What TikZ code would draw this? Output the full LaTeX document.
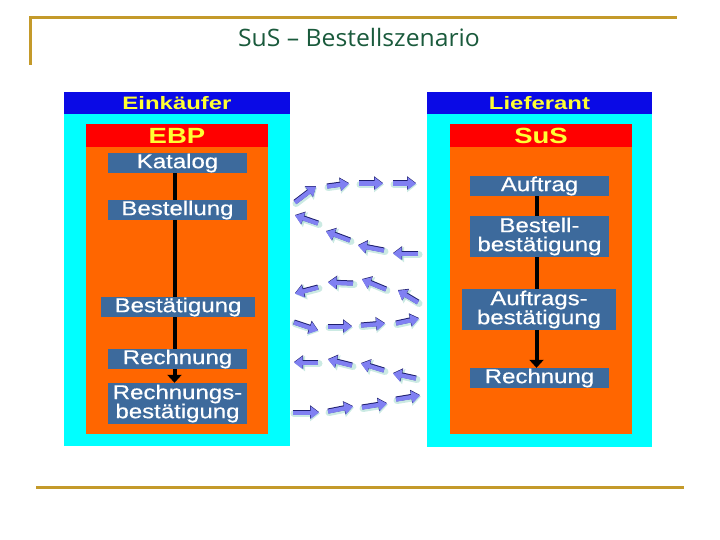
\documentclass[tikz,border=0pt]{standalone}
\usepackage{fontspec}
\setmainfont{Liberation Sans}
\newfontfamily\boxfont[FakeStretch=1.2,FakeBold=0.5]{Liberation Sans}
\newfontfamily\sysfont[FakeStretch=1.25]{Liberation Sans}
\newfontfamily\hdrfont[FakeStretch=1.33]{Liberation Sans}
\newfontfamily\titlefont{Open Sans}
\usetikzlibrary{arrows.meta}
\definecolor{gold}{HTML}{C49A2A}
\definecolor{titlegreen}{HTML}{1A5A3C}
\definecolor{cyanbg}{HTML}{00FFFF}
\definecolor{hdrblue}{HTML}{0A0AE6}
\definecolor{ebpred}{HTML}{FF0000}
\definecolor{orangebg}{HTML}{FF6600}
\definecolor{stepblue}{HTML}{3D6A9C}
\definecolor{txtyellow}{HTML}{FFFF33}
\definecolor{lav}{HTML}{8080F2}
\definecolor{navyc}{HTML}{1E1E6E}
\definecolor{glow}{HTML}{A8DCD0}
\tikzset{
  stepbox/.style={fill=stepblue, text=white, font=\boxfont\fontsize{20}{19}\selectfont,
    inner sep=0pt, align=center, minimum width=139pt, minimum height=20pt},
  widebox/.style={stepbox, minimum width=154pt},
  tallbox/.style={minimum height=41pt},
  hdrbox/.style={fill=hdrblue, text=txtyellow, font=\hdrfont\bfseries\fontsize{18}{17}\selectfont,
    inner sep=0pt, minimum width=226pt, minimum height=22pt},
  sysbox/.style={fill=ebpred, text=txtyellow, font=\sysfont\bfseries\fontsize{22}{21}\selectfont,
    inner sep=0pt, minimum width=182pt, minimum height=23pt},
  flowline/.style={line width=4pt, black, -{Triangle[length=8pt,width=14pt]}},
  fatshadow/.style={line width=7pt, glow, opacity=0.6, line cap=round, -{Triangle[length=10pt,width=15pt]}},
  fatedge/.style={line width=5pt, navyc, -{Triangle[length=9pt,width=13pt]}},
  fatbody/.style={line width=4.2pt, lav, -{Triangle[length=8.5pt,width=12pt]}}
}
\begin{document}
\begin{tikzpicture}[x=1pt,y=-1pt]
\useasboundingbox (0,0) rectangle (720,540);
% frame lines
\draw[gold, line width=3pt] (30,65) -- (30,18) -- (677,18);
\draw[gold, line width=3pt] (36,487) -- (684,487);
\node[text=titlegreen, font=\titlefont\fontsize{24}{24}\selectfont, xscale=1.03, transform shape] (title) at (359,38) {SuS – Bestellszenario};
% panels
\fill[cyanbg] (64,92) rectangle (290,446);
\fill[cyanbg] (427,92) rectangle (652,447);
\fill[orangebg] (86,124) rectangle (268,434);
\fill[orangebg] (450,124) rectangle (632,434);
\node[hdrbox] (lh) at (177,103) {Einkäufer};
\node[hdrbox, minimum width=225pt] (rh) at (539.5,103) {Lieferant};
\node[sysbox] (ebp) at (177,135.5) {EBP};
\node[sysbox] (sus) at (541,135.5) {SuS};
% steps at the ends of the flow lines
\node[stepbox] (kat) at (177.5,163) {Katalog};
\node[stepbox, tallbox] (rb) at (177.5,403.5) {Rechnungs-\\bestätigung};
\node[stepbox] (auf) at (539.5,186) {Auftrag};
\node[stepbox] (rr) at (539.5,378) {Rechnung};
% vertical flow
\draw[flowline] ([xshift=-3pt]kat.south) -- ([xshift=-3pt]rb.north);
\draw[flowline] ([xshift=-3pt]auf.south) -- ([xshift=-3pt]rr.north);
% steps drawn over the line
\node[stepbox] (bes) at (177.5,210) {Bestellung};
\node[widebox] (bst) at (178,307) {Bestätigung};
\node[stepbox] (rl) at (177.5,359) {Rechnung};
\node[stepbox, tallbox] (bb) at (539.5,236.5) {Bestell-\\bestätigung};
\node[widebox, tallbox] (ab) at (539,309.5) {Auftrags-\\bestätigung};
% message arrows
\foreach \xa/\ya/\xb/\yb in {
  295/202/316/186, 327/186/349/183, 359/183/383/183, 393/183/416/183,
  318/223/295/215, 350/240/326/231, 384/250/358/245, 418/253/393/253,
  318/287/295/293, 353/283/328/282, 386/289/362/279, 418/302/398/290,
  294/322/318/330, 328/326/352/326, 361/325/385/323, 396/323/419/318,
  318/362/294/362, 352/365/328/359, 384/370/361/363, 416/378/393/373,
  293/412/319/412, 328/411/353/406, 362/407/387/403, 396/399/420/395}
{
  \coordinate (s) at (\xa,\ya);
  \coordinate (e) at (\xb,\yb);
  \draw[fatshadow] ([shift={(1pt,-1.5pt)}]s) -- ([shift={(1pt,-1.5pt)}]e);
  \draw[fatedge] (s) -- (e);
  \draw[fatbody] ([yshift=-0.6pt]s) -- ([yshift=-0.6pt]e);
}
\end{tikzpicture}
\end{document}
